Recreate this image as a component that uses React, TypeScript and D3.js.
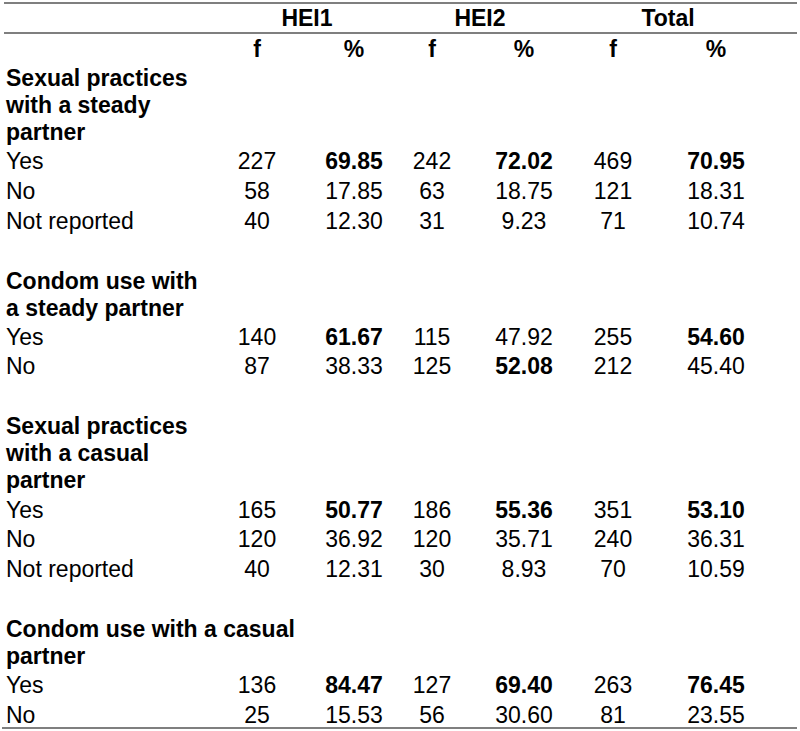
import React from "react";
import * as d3 from "d3";

const groups = ["HEI1", "HEI2", "Total"];
const subHeaders = ["f", "%"];

const sectionTitles: string[][] = [
  ["Sexual practices", "with a steady", "partner"],
  ["Condom use with", "a steady partner"],
  ["Sexual practices", "with a casual", "partner"],
  ["Condom use with a casual", "partner"],
];

const rowLabels: string[][] = [
  ["Yes", "No", "Not reported"],
  ["Yes", "No"],
  ["Yes", "No", "Not reported"],
  ["Yes", "No"],
];

// frequencies [section][row][group]
const freqs: number[][][] = [
  [[227, 242, 469], [58, 63, 121], [40, 31, 71]],
  [[140, 115, 255], [87, 125, 212]],
  [[165, 186, 351], [120, 120, 240], [40, 30, 70]],
  [[136, 127, 263], [25, 56, 81]],
];

// percentages [section][row][group]
const pcts: number[][][] = [
  [[69.85, 72.02, 70.95], [17.85, 18.75, 18.31], [12.30, 9.23, 10.74]],
  [[61.67, 47.92, 54.60], [38.33, 52.08, 45.40]],
  [[50.77, 55.36, 53.10], [36.92, 35.71, 36.31], [12.31, 8.93, 10.59]],
  [[84.47, 69.40, 76.45], [15.53, 30.60, 23.55]],
];

const W = 800;
const H = 731;
const FONT = "'Liberation Sans', Arial, Helvetica, sans-serif";
const FS = 23;

export default function App() {
  const colKeys = groups.flatMap((g) => subHeaders.map((s) => `${g}-${s}`));
  const colX = d3.scaleOrdinal<string, number>().domain(colKeys).range([257, 354, 432, 524, 613, 716]);
  const groupX = d3.scaleOrdinal<string, number>().domain(groups).range([307, 480, 668]);

  const labelX = 6;
  const titleStep = 27;
  const rowStep = 29.6;
  const sectionGap = 60;

  type Cell = { key: string; text: string; bold: boolean };
  type Line = { y: number; text: string; bold: boolean; cells?: Cell[] };
  const lines: Line[] = [];
  let y = 86;
  sectionTitles.forEach((title, si) => {
    if (si > 0) y += sectionGap;
    title.forEach((t, ti) => {
      if (ti > 0) y += titleStep;
      lines.push({ y, text: t, bold: true });
    });
    const maxPct = groups.map((_, gi) => d3.max(pcts[si], (r) => r[gi]) as number);
    rowLabels[si].forEach((lab, ri) => {
      y += ri === 0 ? 29.3 : rowStep;
      const cells: Cell[] = [];
      groups.forEach((g, gi) => {
        cells.push({ key: `${g}-f`, text: String(freqs[si][ri][gi]), bold: false });
        cells.push({ key: `${g}-%`, text: pcts[si][ri][gi].toFixed(2), bold: pcts[si][ri][gi] === maxPct[gi] });
      });
      lines.push({ y, text: lab, bold: false, cells });
    });
  });

  return (
    <svg width={W} height={H} style={{ position: "absolute", left: 0, top: 0, background: "#fff" }} fontFamily={FONT} fontSize={FS}>
      <rect x={0} y={0} width={W} height={H} fill="#fff" />
      <line x1={4} x2={797} y1={3} y2={3} stroke="#555" strokeWidth={1.5} />
      <line x1={4} x2={797} y1={33} y2={33} stroke="#555" strokeWidth={1.5} />
      <line x1={2} x2={797} y1={728} y2={728} stroke="#555" strokeWidth={1.5} />
      {groups.map((g) => (
        <text key={g} x={groupX(g)} y={26} textAnchor="middle" fontWeight="bold" fill="#000">
          {g}
        </text>
      ))}
      {colKeys.map((k) => (
        <text key={k} x={colX(k)} y={57} textAnchor="middle" fontWeight="bold" fill="#000">
          {k.split("-")[1]}
        </text>
      ))}
      {lines.map((l, i) => (
        <g key={i}>
          <text x={labelX} y={l.y} fontWeight={l.bold ? "bold" : "normal"} fill="#000">
            {l.text}
          </text>
          {l.cells &&
            l.cells.map((c) => (
              <text key={c.key} x={colX(c.key)} y={l.y} textAnchor="middle" fontWeight={c.bold ? "bold" : "normal"} fill="#000">
                {c.text}
              </text>
            ))}
        </g>
      ))}
    </svg>
  );
}
